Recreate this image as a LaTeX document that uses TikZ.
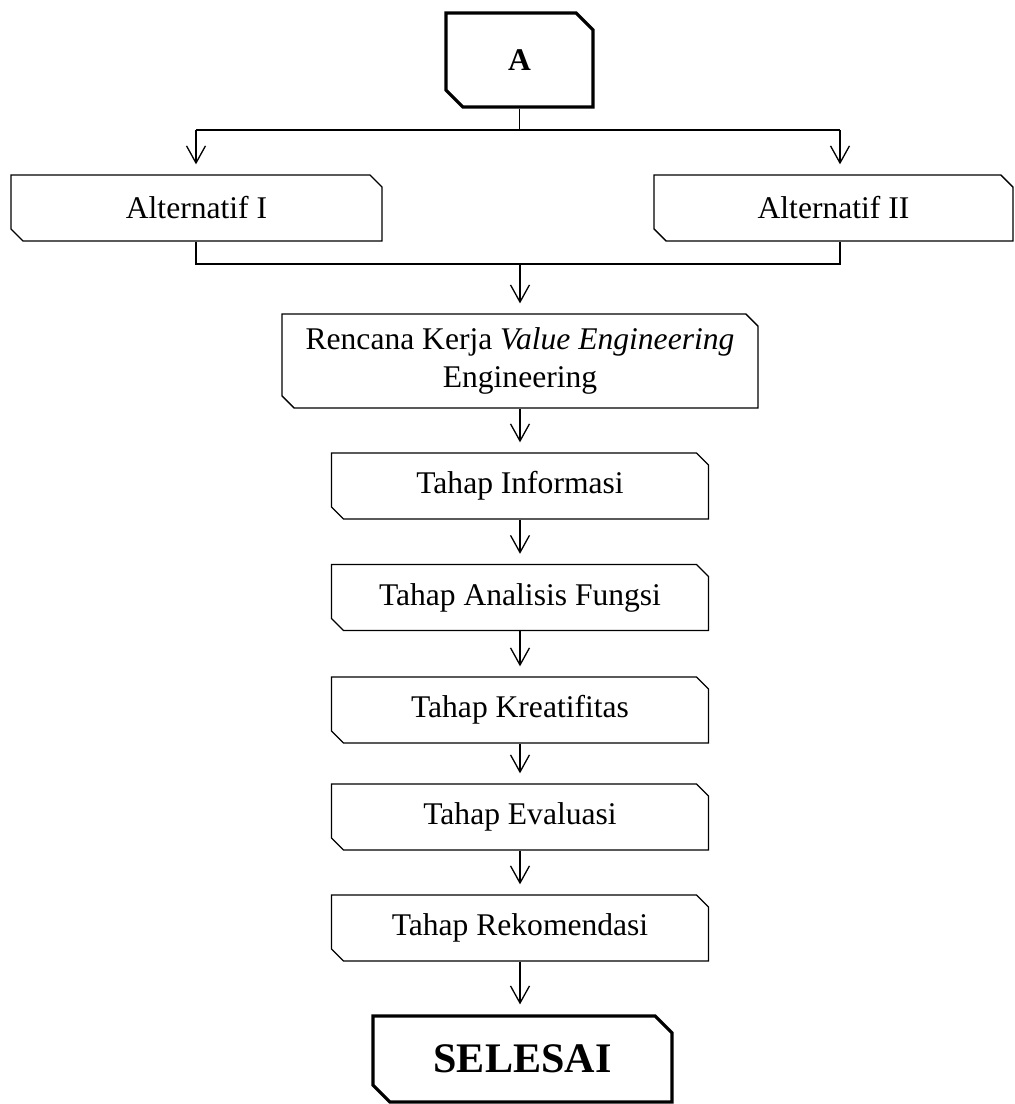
\documentclass[tikz,border=0pt]{standalone}
\usepackage{fontspec}
\setmainfont{Liberation Serif}
\usetikzlibrary{shapes.misc,arrows.meta}

\tikzset{
	kotak/.style={chamfered rectangle, chamfered rectangle corners={north east,south west}, chamfered rectangle xsep=2.3pt, chamfered rectangle ysep=2.3pt, draw, line width=0.5pt, inner sep=0pt, minimum height=25.1pt, font=\fontsize{12}{14.4}\selectfont},
	terminal/.style={kotak, line width=1.2pt, chamfered rectangle xsep=3.2pt, chamfered rectangle ysep=3.2pt, font=\fontsize{12}{14.4}\selectfont\bfseries},
	panah/.style={-{Straight Barb[length=6.5pt,width=7.2pt]}, line width=0.5pt, shorten >=3.8pt},
	garis/.style={line width=0.6pt}
}

\begin{document}
\begin{tikzpicture}[x=0.38pt,y=-0.38pt]
	\useasboundingbox (0,0) rectangle (1015,1104);
	
	\node[terminal, minimum width=55.9pt, minimum height=35.7pt] (a) at (519.5,60) {A};
	\node[kotak, minimum width=141pt] (alt1) at (196.5,208) {Alternatif I};
	\node[kotak, minimum width=136.4pt] (alt2) at (833.5,208) {Alternatif II};
	\node[kotak, minimum width=180.9pt, minimum height=35.7pt, align=center] (rencana) at (520,361) {Rencana Kerja \textit{Value Engineering}\\Engineering};
	\node[kotak, minimum width=143.3pt] (info) at (520,486) {Tahap Informasi};
	\node[kotak, minimum width=143.3pt] (fungsi) at (520,597.5) {Tahap Analisis Fungsi};
	\node[kotak, minimum width=143.3pt] (kreatif) at (520,710) {Tahap Kreatifitas};
	\node[kotak, minimum width=143.3pt] (evaluasi) at (520,817) {Tahap Evaluasi};
	\node[kotak, minimum width=143.3pt] (rekom) at (520,928) {Tahap Rekomendasi};
	\node[terminal, minimum width=113.6pt, minimum height=32.7pt, font=\fontsize{16}{19}\selectfont\bfseries] (selesai) at (522.5,1059) {SELESAI};
	
	\coordinate (kiri) at (196,130);
	\coordinate (kanan) at (840,130);
	\coordinate (gabungkiri) at (196,264);
	\coordinate (gabungkanan) at (840,264);
	\coordinate (gabung) at (520,264);
	
	\draw[garis] (a.south) -- (a.south |- kiri);
	\draw[garis] (kiri) -- (kanan);
	\draw[panah] (kiri) -- (kiri |- alt1.north);
	\draw[panah] (kanan) -- (kanan |- alt2.north);
	\draw[garis] (kiri |- alt1.south) -- (gabungkiri) -- (gabungkanan) -- (kanan |- alt2.south);
	\draw[panah] (gabung) -- (rencana.north);
	
	\foreach \dari/\ke in {rencana/info, info/fungsi, fungsi/kreatif, kreatif/evaluasi, evaluasi/rekom}
		\draw[panah] (\dari.south) -- (\ke.north);
	\draw[panah] (rekom.south) -- (rekom.south |- selesai.north);
	
\end{tikzpicture}
\end{document}
